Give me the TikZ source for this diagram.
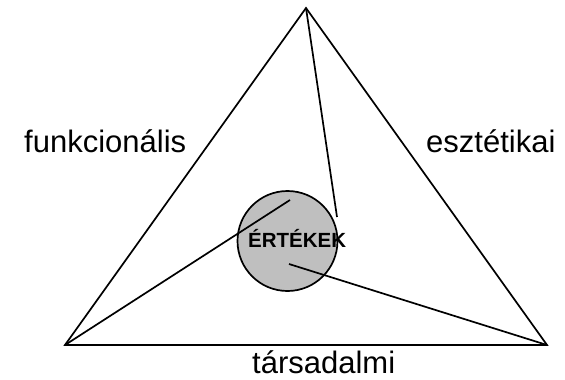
\documentclass[tikz,border=0pt]{standalone}
\usepackage{fontspec}
\setmainfont{Liberation Sans}
\usetikzlibrary{positioning}

\begin{document}
\begin{tikzpicture}[x=1pt, y=-1pt,
  edge/.style={line width=1.7pt, line join=miter},
  core/.style={circle, draw, line width=1.7pt, fill=black!25, minimum size=100pt, inner sep=0pt},
  lbl/.style={font=\fontsize{31}{36}\selectfont, inner sep=0pt, anchor=base west},
  corelbl/.style={font=\fontsize{20.5}{24}\selectfont\bfseries, inner sep=0pt, anchor=base west}
]
\useasboundingbox (0,0) rectangle (565,380);
\coordinate (top) at (306,8);
\coordinate (bl)  at (65,345);
\coordinate (br)  at (547,345);
\draw[edge] (top) -- (bl) -- (br) -- cycle;
\node[core] (ert) at (287.5,241) {};
% spokes end inside the circle
\coordinate (pa) at (337,217);
\coordinate (pb) at (290,200);
\coordinate (pc) at (289,264);
\draw[edge] (top) -- (pa);
\draw[edge] (bl) -- (pb);
\draw[edge] (br) -- (pc);
\node[corelbl] (ertl) at (248,247) {ÉRTÉKEK};
\node[lbl] (funk) at (24,152) {funkcionális};
\node[lbl] (eszt) at (426,152) {esztétikai};
\node[lbl] (tars) at (252,373) {társadalmi};
\end{tikzpicture}
\end{document}
